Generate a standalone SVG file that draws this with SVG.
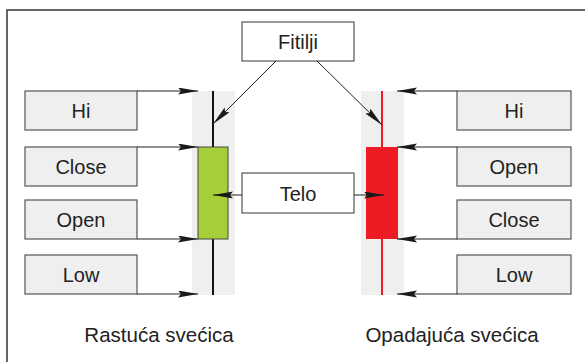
<svg xmlns="http://www.w3.org/2000/svg" width="585" height="362" viewBox="0 0 585 362">
<defs>
<marker id="ah" markerUnits="userSpaceOnUse" markerWidth="21" markerHeight="8" refX="20" refY="3.5" orient="auto">
<path d="M0,0 L20,3.5 L0,7 L3,3.5 z" fill="#1a1a1a"/>
</marker>
</defs>
<style>
.lbl{fill:#efefef;stroke:#555;stroke-width:1.2}
.wbox{fill:#fff;stroke:#555;stroke-width:1.2}
text{font-family:"Liberation Sans",Arial,sans-serif;font-size:20px;fill:#222;text-anchor:middle}
.conn line{stroke:#222;stroke-width:1;marker-end:url(#ah)}
</style>
<rect width="585" height="362" fill="#fff"/>
<path d="M7,362 V10 H585" fill="none" stroke="#333" stroke-width="1.5"/>

<g id="bull-candle">
<rect x="192" y="91" width="43" height="204" fill="#efefef"/>
<line x1="213" y1="91" x2="213" y2="295" stroke="#111" stroke-width="2"/>
<rect x="198" y="147" width="30" height="92" fill="#a6ce39" stroke="#444" stroke-width="1"/>
</g>
<g id="bear-candle">
<rect x="361" y="91" width="43" height="204" fill="#efefef"/>
<line x1="382" y1="91" x2="382" y2="295" stroke="#ed1c24" stroke-width="2"/>
<rect x="366" y="147" width="32" height="92" fill="#ed1c24"/>
</g>

<g id="l-hi"><rect class="lbl" x="25" y="91" width="112" height="39"/><text x="81" y="118">Hi</text></g>
<g id="l-close"><rect class="lbl" x="25" y="147" width="112" height="39"/><text x="81" y="174">Close</text></g>
<g id="l-open"><rect class="lbl" x="25" y="200" width="112" height="39"/><text x="81" y="227">Open</text></g>
<g id="l-low"><rect class="lbl" x="25" y="255" width="112" height="39"/><text x="81" y="282">Low</text></g>

<g id="r-hi"><rect class="lbl" x="457" y="91" width="114" height="39"/><text x="514" y="118">Hi</text></g>
<g id="r-open"><rect class="lbl" x="457" y="147" width="114" height="39"/><text x="514" y="174">Open</text></g>
<g id="r-close"><rect class="lbl" x="457" y="200" width="114" height="39"/><text x="514" y="227">Close</text></g>
<g id="r-low"><rect class="lbl" x="457" y="255" width="114" height="39"/><text x="514" y="282">Low</text></g>

<g id="fitilji"><rect class="wbox" x="242" y="22" width="112" height="39"/><text x="298" y="49">Fitilji</text></g>
<g id="telo"><rect class="wbox" x="242" y="173" width="112" height="40"/><text x="298" y="201">Telo</text></g>

<g class="conn">
<line x1="137" y1="91" x2="198" y2="91"/>
<line x1="137" y1="147" x2="198" y2="147"/>
<line x1="137" y1="239" x2="198" y2="239"/>
<line x1="137" y1="294" x2="198" y2="294"/>
<line x1="457" y1="91" x2="397" y2="91"/>
<line x1="457" y1="147" x2="397" y2="147"/>
<line x1="457" y1="239" x2="397" y2="239"/>
<line x1="457" y1="294" x2="397" y2="294"/>
<line x1="276" y1="61" x2="213" y2="124"/>
<line x1="317" y1="61" x2="382" y2="125"/>
<line x1="242" y1="195" x2="213" y2="195"/>
<line x1="354" y1="195" x2="384" y2="195"/>
</g>

<text x="159" y="342" style="font-size:20.5px">Rastuća svećica</text>
<text x="452" y="342" style="font-size:20.5px">Opadajuća svećica</text>
</svg>
